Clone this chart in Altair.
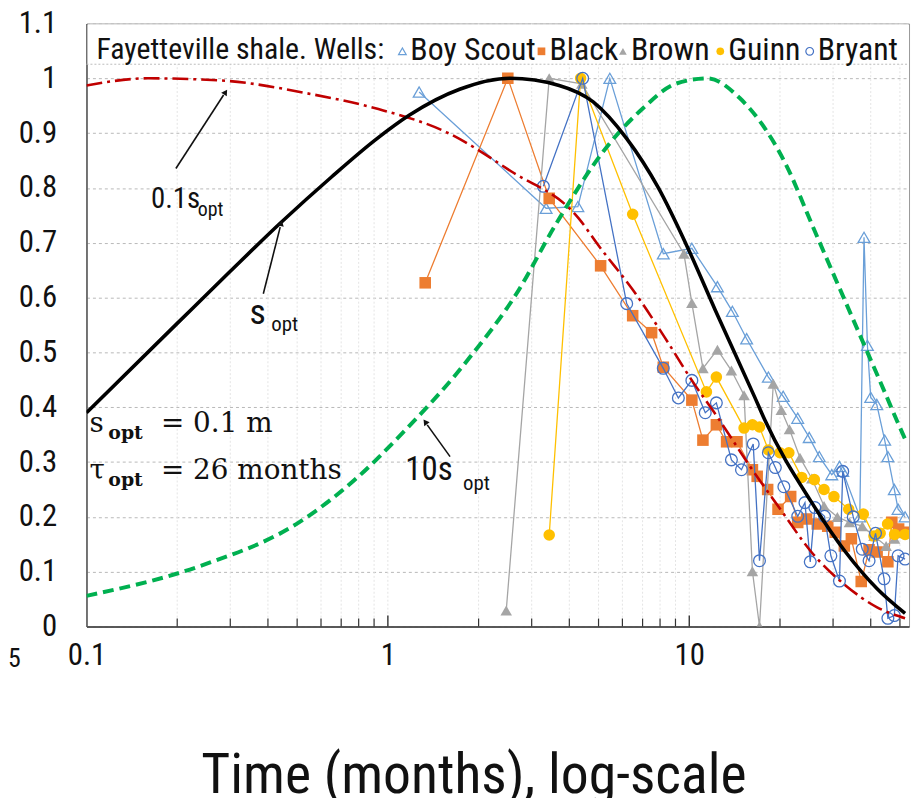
import altair as alt
import pandas as pd

FONT = "Liberation Sans Narrow, Arial Narrow, Roboto Condensed, Liberation Sans, sans-serif"
SERIF = "DejaVu Serif, Liberation Serif, serif"

# ---------------- model curves ----------------
sopt_t = [0.1, 0.2, 0.3, 0.44, 0.65, 0.92, 1.18, 1.73, 2.54, 3.7, 4.8, 6.2, 7.9, 9.9, 12.2, 16.5, 17.8, 25.5, 33, 42, 52]
sopt_v = [0.39, 0.553, 0.648, 0.736, 0.82, 0.89, 0.933, 0.98, 1.0, 0.987, 0.957, 0.89, 0.80, 0.69, 0.577, 0.418, 0.377, 0.226, 0.136, 0.069, 0.024]

s10_t = [0.1, 0.237, 0.507, 0.80, 1.087, 1.87, 2.67, 3.61, 5.4, 6.98, 9.0, 11.5, 14.7, 20.7, 26.1, 32.7, 38.1, 44.4, 49, 52.5]
s10_v = [0.056, 0.11, 0.19, 0.274, 0.346, 0.491, 0.607, 0.734, 0.879, 0.944, 0.99, 1.0, 0.964, 0.848, 0.721, 0.597, 0.513, 0.429, 0.374, 0.337]

s01_t = [0.1, 0.16, 0.28, 0.56, 0.93, 1.56, 2.57, 4.29, 5.0, 6.64, 8.3, 10.2, 12.4, 16, 20, 25.5, 33, 42, 52]
s01_v = [0.987, 1.0, 0.996, 0.971, 0.944, 0.902, 0.83, 0.745, 0.695, 0.607, 0.527, 0.449, 0.382, 0.29, 0.215, 0.135, 0.075, 0.035, 0.015]

# ---------------- wells ----------------
boy_t = [1.27, 3.35, 4.27, 5.45, 8.2, 10.2, 12.4, 13.9, 15.5, 18.3, 20.5, 22.9, 25.0, 27.0, 29.7, 31.5, 32.3, 36.8, 38.0, 39.0, 40.0, 41.9, 44.5, 45.6, 47.9, 49.3, 52.0]
boy_v = [0.975, 0.763, 0.766, 1.0, 0.68, 0.69, 0.62, 0.575, 0.525, 0.455, 0.42, 0.38, 0.345, 0.31, 0.277, 0.292, 0.283, 0.20, 0.71, 0.513, 0.418, 0.405, 0.34, 0.31, 0.25, 0.214, 0.20]

black_t = [1.33, 2.5, 3.43, 5.08, 6.49, 7.5, 8.2, 10.2, 11.1, 12.3, 13.3, 14.4, 16.2, 16.8, 18.2, 19.7, 21.7, 22.9, 24.5, 26.6, 28.8, 30.5, 32.7, 34.5, 37.2, 39.5, 42.0, 45.6, 47.0, 49.5, 52.0]
black_v = [0.627, 1.0, 0.781, 0.658, 0.567, 0.536, 0.473, 0.413, 0.34, 0.368, 0.337, 0.337, 0.286, 0.274, 0.25, 0.214, 0.237, 0.19, 0.196, 0.187, 0.183, 0.172, 0.147, 0.16, 0.082, 0.14, 0.136, 0.118, 0.19, 0.178, 0.172]

brown_t = [2.47, 3.43, 4.4, 9.6, 10.2, 11.1, 12.4, 13.8, 15.2, 16.2, 17.1, 19.0, 20.2, 21.5, 23.3, 25.5, 28.0, 31.0, 34.0, 37.5, 41.0, 45.0, 48.0, 52.0]
brown_v = [0.029, 1.0, 0.99, 0.68, 0.59, 0.471, 0.505, 0.467, 0.422, 0.101, 0.0, 0.443, 0.395, 0.36, 0.308, 0.27, 0.22, 0.2, 0.19, 0.183, 0.165, 0.147, 0.16, 0.17]

guinn_t = [3.43, 4.36, 6.49, 11.4, 12.3, 15.2, 16.2, 17.1, 18.3, 20.0, 21.4, 23.6, 26.0, 28.0, 30.2, 33.8, 37.8, 41.0, 43.0, 45.5, 48.0, 52.0]
guinn_v = [0.167, 1.0, 0.752, 0.428, 0.455, 0.362, 0.368, 0.364, 0.322, 0.317, 0.317, 0.272, 0.268, 0.25, 0.237, 0.214, 0.205, 0.165, 0.17, 0.187, 0.168, 0.168]

bryant_t = [3.28, 4.43, 6.2, 8.2, 9.2, 10.2, 11.3, 12.3, 13.8, 14.9, 16.3, 17.1, 18.3, 19.3, 20.6, 22.9, 24.2, 25.2, 26.1, 28.1, 29.5, 31.5, 32.3, 35.0, 37.5, 39.5, 41.5, 44.3, 45.6, 47.9, 49.3, 52.0]
bryant_v = [0.803, 1.0, 0.589, 0.471, 0.417, 0.449, 0.39, 0.408, 0.304, 0.286, 0.333, 0.12, 0.317, 0.29, 0.255, 0.201, 0.226, 0.118, 0.217, 0.201, 0.129, 0.083, 0.283, 0.2, 0.141, 0.12, 0.17, 0.087, 0.015, 0.02, 0.129, 0.123]

# ---------------- axes ----------------
y_ticks = [0, 0.1, 0.2, 0.3, 0.4, 0.5, 0.6, 0.7, 0.8, 0.9, 1.0, 1.1]
x_labels = [0.1, 1, 10]
minor_ticks = [0.2, 0.3, 0.4, 0.5, 0.6, 0.7, 0.8, 0.9, 2, 3, 4, 5, 6, 7, 8, 9, 20, 30, 40, 50]
major_ticks = [1, 10]

W, H = 828, 607
xs = alt.Scale(type="log", domain=[0.1, 53.6])
ys = alt.Scale(domain=[0, 1.1])
x_axis = alt.Axis(values=x_labels, format="~g", title=None, labelFont=FONT, labelFontSize=31,
                  labelColor="#111", labelPadding=14, ticks=False, grid=False, labelFlush=False,
                  labelOverlap=False, domainColor="#333", domainWidth=1.5)
y_axis = alt.Axis(values=y_ticks, format=".1~f", title=None, labelFont=FONT, labelFontSize=31,
                  labelColor="#111", labelPadding=30, ticks=False, grid=True, gridColor="#b8b8b8",
                  gridDash=[3, 3], gridWidth=1, labelFlush=False, labelOverlap=False,
                  domainColor="#555", domainWidth=1.5)

X = alt.X("t:Q", scale=xs, axis=x_axis)
Y = alt.Y("v:Q", scale=ys, axis=y_axis)

one = pd.DataFrame({"a": [0]})


def df(t, v):
    return pd.DataFrame({"t": t, "v": v})


layers = []

# faint vertical grid at log ticks
grid_df = pd.DataFrame({"t": minor_ticks + major_ticks})
layers.append(alt.Chart(grid_df).mark_rule(color="#e4e4e4", strokeWidth=1, strokeDash=[2, 2]).encode(
    x=X, y=alt.value(0), y2=alt.value(H)))

# wells
wells = [
    (boy_t, boy_v, "#6a9fd8", "triangle-up", False, "#6a9fd8"),
    (black_t, black_v, "#ED7D31", "square", True, "#ED7D31"),
    (brown_t, brown_v, "#A5A5A5", "triangle-up", True, "#A5A5A5"),
    (guinn_t, guinn_v, "#FFC000", "circle", True, "#FFC000"),
    (bryant_t, bryant_v, "#4472C4", "circle", False, "#4472C4"),
]
for t, v, lc, shape, filled, mc in wells:
    d = df(t, v)
    layers.append(alt.Chart(d).mark_line(color=lc, strokeWidth=1.3, clip=True).encode(x=X, y=Y))
    if filled:
        layers.append(alt.Chart(d).mark_point(shape=shape, filled=True, color=mc, size=135, opacity=1, clip=True).encode(x=X, y=Y))
    else:
        layers.append(alt.Chart(d).mark_point(shape=shape, filled=False, color=mc, size=140, strokeWidth=1.3, opacity=1, clip=True).encode(x=X, y=Y))

# model curves
layers.append(alt.Chart(df(s01_t, s01_v)).mark_line(color="#C00000", strokeWidth=2.6, strokeDash=[16, 5, 3, 5],
                                                    interpolate="monotone", clip=True).encode(x=X, y=Y))
layers.append(alt.Chart(df(s10_t, s10_v)).mark_line(color="#00B050", strokeWidth=4, strokeDash=[11, 6],
                                                    interpolate="monotone", clip=True).encode(x=X, y=Y))
layers.append(alt.Chart(df(sopt_t, sopt_v)).mark_line(color="#000000", strokeWidth=3.6,
                                                      interpolate="monotone", clip=True).encode(x=X, y=Y))

# inward x-axis ticks
layers.append(alt.Chart(pd.DataFrame({"t": minor_ticks})).mark_rule(color="#333", strokeWidth=1.2).encode(
    x=X, y=alt.value(H - 8), y2=alt.value(H)))
layers.append(alt.Chart(pd.DataFrame({"t": major_ticks})).mark_rule(color="#333", strokeWidth=1.4).encode(
    x=X, y=alt.value(H - 11), y2=alt.value(H)))


def txt(s, x, y, size, font=FONT, align="left", baseline="alphabetic", weight="normal", color="#111"):
    return alt.Chart(one).mark_text(text=s, fontSize=size, font=font, align=align, baseline=baseline,
                                    fontWeight=weight, color=color).encode(x=alt.value(x), y=alt.value(y))


def pt(x, y, shape, color, filled, size, angle=0):
    return alt.Chart(one).mark_point(shape=shape, color=color, filled=filled, size=size, angle=angle,
                                     opacity=1, strokeWidth=1.2).encode(x=alt.value(x), y=alt.value(y))


def rule(x1, y1, x2, y2, color="#111", w=1.6):
    return alt.Chart(one).mark_rule(color=color, strokeWidth=w).encode(
        x=alt.value(x1), y=alt.value(y1), x2=alt.value(x2), y2=alt.value(y2))


# legend box
layers.append(alt.Chart(one).mark_rect(color="white").encode(
    x=alt.value(1), x2=alt.value(W - 1), y=alt.value(1), y2=alt.value(41)))
layers.append(alt.Chart(one).mark_rule(color="#bbb", strokeDash=[2, 2]).encode(
    x=alt.value(0), x2=alt.value(W), y=alt.value(41)))
LY = 27
layers.append(txt("Fayetteville shale. Wells:", 10, LY, 30, baseline="middle"))
leg = [
    (318, "Boy Scout", "triangle-up", "#6a9fd8", False),
    (458, "Black", "square", "#ED7D31", True),
    (540, "Brown", "triangle-up", "#A5A5A5", True),
    (638, "Guinn", "circle", "#FFC000", True),
    (728, "Bryant", "circle", "#4472C4", False),
]
for lx, name, shape, col, filled in leg:
    layers.append(pt(lx, LY + 1, shape, col, filled, 60))
    layers.append(txt(name, lx + 8, LY, 32, baseline="middle"))

# curve annotations
layers.append(txt("0.1s", 65, 186, 29))
layers.append(txt("opt", 112, 194, 20))
layers.append(rule(90, 146, 138, 72))
layers.append(pt(140, 69, "triangle-up", "#111", True, 45, 33))

layers.append(txt("s", 164, 302, 36))
layers.append(txt("opt", 186, 310, 21))
layers.append(rule(178, 272, 195, 205))
layers.append(pt(196, 201, "triangle-up", "#111", True, 45, 14))

layers.append(txt("10s", 321, 460, 33))
layers.append(txt("opt", 379, 470, 21))
layers.append(rule(366, 436, 343, 404))
layers.append(pt(341, 401, "triangle-up", "#111", True, 45, 324))

# parameter text
layers.append(txt("s", 3, 411, 28, font=SERIF))
layers.append(txt("opt", 22, 418, 19, font=SERIF, weight="bold"))
layers.append(txt("= 0.1 m", 75, 411, 28, font=SERIF))
layers.append(txt("\u03c4", 3, 459, 28, font=SERIF))
layers.append(txt("opt", 22, 466, 19, font=SERIF, weight="bold"))
layers.append(txt("= 26 months", 75, 459, 28, font=SERIF))

# cropped edge label and axis title
layers.append(txt("5", -79, 640, 26, align="left", baseline="middle"))
layers.append(txt("Time (months), log-scale", 390, 775, 56, align="center", baseline="alphabetic"))

chart = alt.layer(*layers).properties(
    width=W, height=H,
    padding={"left": 79, "top": 13, "right": 5, "bottom": 170},
    autosize=alt.AutoSizeParams(type="none"),
).configure_view(stroke="#999", strokeWidth=1)

chart.save("out.html", embed_options={"renderer": "svg", "actions": False})
